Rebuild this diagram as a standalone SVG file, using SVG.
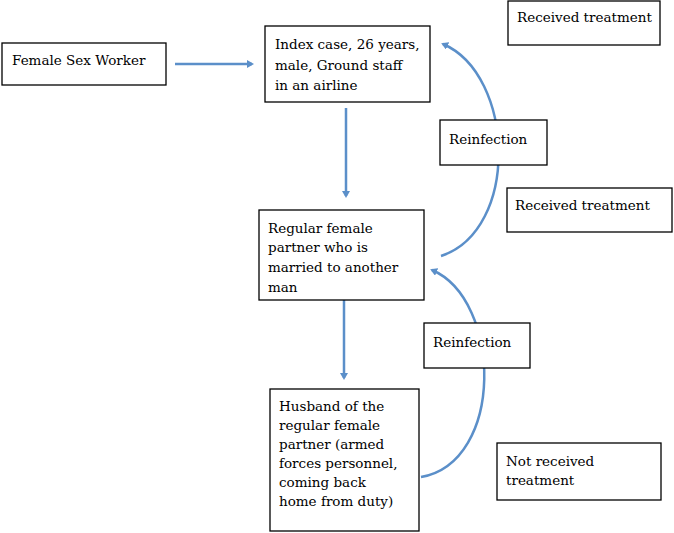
<svg xmlns="http://www.w3.org/2000/svg" width="674" height="533" viewBox="0 0 674 533">
<style>
.box{fill:#fff;stroke:#000;stroke-width:1.3}
.t{font-family:"DejaVu Serif","Liberation Serif",serif;font-size:13.5px;fill:#000}
.c{fill:none;stroke:#5b8fc9;stroke-width:2.5}
</style>
<defs>
<marker id="ah" markerWidth="8" markerHeight="8" refX="5" refY="4" orient="auto" markerUnits="userSpaceOnUse">
<path d="M0,0 L7,4 L0,8 Z" fill="#5b8fc9"/>
</marker>
</defs>
<rect width="674" height="533" fill="#fff"/>
<g id="connectors">
<line class="c" x1="175" y1="64" x2="252" y2="64" marker-end="url(#ah)"/>
<line class="c" x1="346" y1="108" x2="346" y2="196" marker-end="url(#ah)"/>
<line class="c" x1="344" y1="300" x2="344" y2="378" marker-end="url(#ah)"/>
<path class="c" d="M441 256 C520 230 515 75 443 44" marker-end="url(#ah)"/>
<path class="c" d="M421 477 C505 462 502 300 432 270" marker-end="url(#ah)"/>
</g>
<g id="fsw"><rect class="box" x="2" y="43" width="164" height="42"/><text class="t" x="12" y="65">Female Sex Worker</text></g>
<g id="index"><rect class="box" x="265" y="26" width="165" height="76"/><text class="t" x="275" y="49">Index case, 26 years,</text><text class="t" x="275" y="70">male, Ground staff</text><text class="t" x="275" y="90">in an airline</text></g>
<g id="rt1"><rect class="box" x="508" y="1" width="152" height="44"/><text class="t" x="517" y="22">Received treatment</text></g>
<g id="reinf1"><rect class="box" x="440" y="120" width="107" height="45"/><text class="t" x="449" y="144">Reinfection</text></g>
<g id="rt2"><rect class="box" x="507" y="188" width="165" height="44"/><text class="t" x="515" y="210">Received treatment</text></g>
<g id="partner"><rect class="box" x="259" y="210" width="165" height="90"/><text class="t" x="268" y="233">Regular female</text><text class="t" x="268" y="252">partner who is</text><text class="t" x="268" y="272">married to another</text><text class="t" x="268" y="292">man</text></g>
<g id="reinf2"><rect class="box" x="424" y="323" width="106" height="45"/><text class="t" x="433" y="347">Reinfection</text></g>
<g id="husband"><rect class="box" x="270" y="389" width="149" height="142"/><text class="t" x="279" y="411">Husband of the</text><text class="t" x="279" y="430">regular female</text><text class="t" x="279" y="449">partner (armed</text><text class="t" x="279" y="468">forces personnel,</text><text class="t" x="279" y="487">coming back</text><text class="t" x="279" y="506">home from duty)</text></g>
<g id="nrt"><rect class="box" x="497" y="443" width="164" height="57"/><text class="t" x="506" y="466">Not received</text><text class="t" x="506" y="485">treatment</text></g>
</svg>
